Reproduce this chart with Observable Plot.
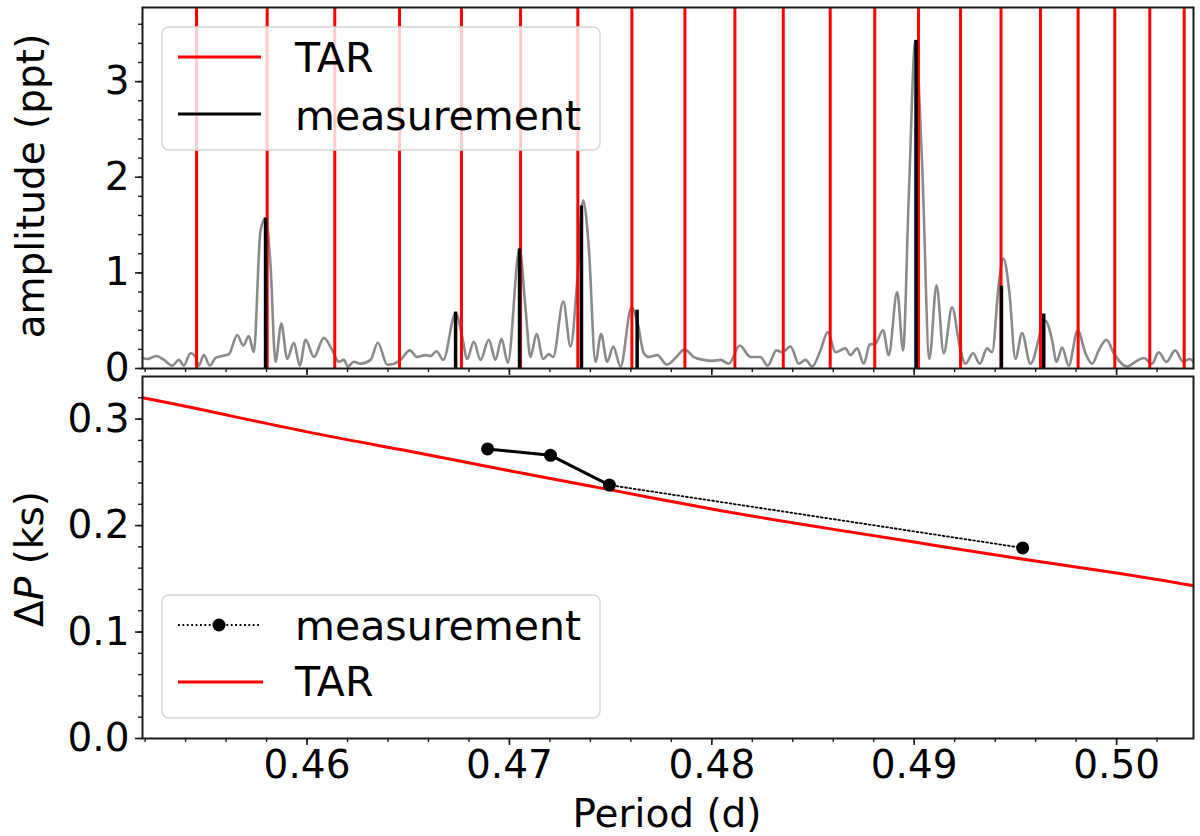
<!DOCTYPE html>
<html>
<head>
<meta charset="utf-8">
<script src="https://cdn.jsdelivr.net/npm/d3@7"></script>
<script src="https://cdn.jsdelivr.net/npm/@observablehq/plot@0.6"></script>
<style>
  body { margin: 0; background: #fff; }
  #chart svg { display: block; }
</style>
</head>
<body>
<div id="chart"></div>
<script>
// periodogram (gray curve)
const specPeriod = [
  0.45187, 0.45211, 0.45256, 0.45293, 0.45334, 0.45367, 0.45391, 0.45424, 0.45449, 0.45465,
  0.4549, 0.4552, 0.45548, 0.45581, 0.45614, 0.45655, 0.45685, 0.45712, 0.45737, 0.4577,
  0.45795, 0.4582, 0.45844, 0.45873, 0.45902, 0.45935, 0.45964, 0.45993, 0.46034, 0.46083,
  0.46125, 0.46157, 0.46182, 0.46202, 0.46231, 0.46264, 0.46314, 0.4635, 0.46396, 0.46429,
  0.46462, 0.46508, 0.46544, 0.46585, 0.4661, 0.4664, 0.46673, 0.46734, 0.46767, 0.46791,
  0.46824, 0.46857, 0.46898, 0.46931, 0.46961, 0.46992, 0.4705, 0.47079, 0.47104, 0.47134,
  0.47167, 0.47195, 0.47216, 0.47266, 0.47302, 0.47335, 0.47364, 0.47392, 0.47425, 0.47453,
  0.47483, 0.47513, 0.47549, 0.47603, 0.47631, 0.47664, 0.47689, 0.4773, 0.47779, 0.47825,
  0.47865, 0.47911, 0.4796, 0.48002, 0.48043, 0.48084, 0.48138, 0.48191, 0.4824, 0.48276,
  0.48319, 0.48348, 0.48389, 0.4843, 0.48463, 0.48496, 0.48537, 0.48573, 0.48611, 0.4866,
  0.48685, 0.48718, 0.48751, 0.4878, 0.48808, 0.48846, 0.48874, 0.48916, 0.48945, 0.48973,
  0.49006, 0.49039, 0.49075, 0.4911, 0.49146, 0.49187, 0.49225, 0.49253, 0.49291, 0.49324,
  0.4936, 0.49385, 0.49418, 0.49441, 0.4947, 0.495, 0.49533, 0.49574, 0.49648, 0.49681,
  0.49703, 0.49731, 0.49763, 0.49808, 0.49846, 0.49879, 0.49912, 0.4995, 0.49986, 0.50052,
  0.50093, 0.50134, 0.50175, 0.50208, 0.50246, 0.5029, 0.50328, 0.50361, 0.5038
];
const specAmp = [
  0.11, 0.10, 0.13, 0.09, 0.03, 0.09, 0.03, 0.16, 0.12, 0.03,
  0.14, 0.03, 0.11, 0.13, 0.15, 0.35, 0.24, 0.34, 0.17, 1.44,
  1.57, 1.06, 0.07, 0.47, 0.10, 0.27, 0.03, 0.30, 0.12, 0.32,
  0.19, 0.07, 0.09, 0.02, 0.07, 0.05, 0.09, 0.27, 0.04, 0.05,
  0.09, 0.19, 0.12, 0.14, 0.13, 0.18, 0.09, 0.58, 0.33, 0.10,
  0.28, 0.09, 0.30, 0.09, 0.31, 0.06, 1.25, 0.64, 0.12, 0.36,
  0.10, 0.15, 0.12, 0.70, 0.23, 0.92, 1.76, 1.27, 0.07, 0.36,
  0.07, 0.23, 0.02, 0.64, 0.50, 0.16, 0.12, 0.14, 0.04, 0.12,
  0.20, 0.12, 0.09, 0.08, 0.09, 0.05, 0.24, 0.12, 0.12, 0.03,
  0.19, 0.17, 0.23, 0.05, 0.09, 0.02, 0.19, 0.38, 0.17, 0.21,
  0.14, 0.21, 0.05, 0.25, 0.26, 0.40, 0.14, 0.80, 0.19, 1.79,
  3.43, 2.14, 0.10, 0.87, 0.16, 0.64, 0.23, 0.05, 0.16, 0.05,
  0.21, 0.17, 0.89, 1.15, 0.80, 0.10, 0.37, 0.05, 0.50, 0.30,
  0.07, 0.22, 0.03, 0.40, 0.16, 0.05, 0.19, 0.30, 0.16, 0.02,
  0.07, 0.11, 0.05, 0.17, 0.07, 0.19, 0.07, 0.10, 0.07
];

// TAR predicted periods (red verticals)
const tarPeriod = [
  0.45454, 0.45803, 0.46137, 0.46457, 0.46763, 0.47055, 0.47338, 0.47605, 0.47867, 0.48114,
  0.48353, 0.48585, 0.48805, 0.49021, 0.49229, 0.49429, 0.49624, 0.4981, 0.49991, 0.50164, 0.50334
];

// measured modes (black verticals)
const measPeriod = [0.45795, 0.46734, 0.4705, 0.47356, 0.47631, 0.49009, 0.49431, 0.4964];
const measAmp = [1.57, 0.59, 1.25, 1.70, 0.61, 3.43, 0.86, 0.57];

// period spacings, lower panel
const spacingPeriod = [0.46892, 0.47203, 0.47494, 0.49536];
const spacingKs = [0.272, 0.266, 0.238, 0.179];
const tarLinePeriod = [0.45187, 0.455, 0.46, 0.465, 0.47, 0.475, 0.48, 0.485, 0.49, 0.495, 0.50, 0.5038];
const tarLineKs = [0.320, 0.308, 0.288, 0.270, 0.2515, 0.2335, 0.2155, 0.1995, 0.1845, 0.1695, 0.1555, 0.1435];

// ticks
const xTicks = [0.46, 0.47, 0.48, 0.49, 0.50];
const xMinor = d3.range(226, 252).map(i => i * 0.002);
const ampTicks = [0, 1, 2, 3];
const ampMinor = d3.range(0, 19).map(i => i * 0.2);
const dpTicks = [0, 0.1, 0.2, 0.3];
const dpMinor = d3.range(0, 17).map(i => i * 0.02);

const spec = specPeriod.map((p, i) => ({p, a: specAmp[i]}));
const meas = measPeriod.map((p, i) => ({p, a: measAmp[i]}));
const spacing = spacingPeriod.map((p, i) => ({p, dp: spacingKs[i]}));
const tarLine = tarLinePeriod.map((p, i) => ({p, dp: tarLineKs[i]}));

const font = "DejaVu Sans";
const ink = "#1a1a1a";
const xDomain = [0.45187, 0.5038];

function axes(yTicks, yMinor, yFormat, showX) {
  return [
    Plot.axisY({ticks: yTicks, tickSize: 7, tickPadding: 6, tickFormat: yFormat, label: null,
      fontSize: 39, fontFamily: font, stroke: ink, strokeWidth: 1.6}),
    Plot.axisY({ticks: yMinor, tickSize: 4, tickFormat: () => "", label: null, stroke: ink, strokeWidth: 1.4}),
    Plot.axisX({ticks: xTicks, tickSize: 7, tickPadding: 5, label: null,
      tickFormat: showX ? d3.format(".2f") : () => "", fontSize: 39, fontFamily: font, stroke: ink, strokeWidth: 1.6}),
    Plot.axisX({ticks: xMinor, tickSize: 4, tickFormat: () => "", label: null, stroke: ink, strokeWidth: 1.4}),
    Plot.frame({stroke: ink, strokeWidth: 2})
  ];
}

const upperChart = Plot.plot({
  width: 1200, height: 375,
  marginLeft: 142, marginRight: 7, marginTop: 7, marginBottom: 7,
  style: {fontFamily: font, fontSize: "39px", color: "black", background: "white", overflow: "visible"},
  x: {domain: xDomain},
  y: {domain: [0, 3.775]},
  marks: [
    Plot.line(spec, {x: "p", y: "a", stroke: "#8a8a8a", strokeWidth: 2.6, curve: "monotone-x", clip: true}),
    Plot.ruleX(tarPeriod, {stroke: "red", strokeWidth: 3}),
    Plot.ruleX(meas, {x: "p", y1: 0, y2: "a", stroke: "black", strokeWidth: 3.5}),
    ...axes(ampTicks, ampMinor, d3.format("d"), false)
  ]
});

const lowerChart = Plot.plot({
  width: 1200, height: 461,
  marginLeft: 142, marginRight: 7, marginTop: 1, marginBottom: 98,
  style: {fontFamily: font, fontSize: "39px", color: "black", background: "white", overflow: "visible"},
  x: {domain: xDomain},
  y: {domain: [0, 0.34]},
  marks: [
    Plot.line(tarLine, {x: "p", y: "dp", stroke: "red", strokeWidth: 3, curve: "natural", clip: true}),
    Plot.line(spacing, {x: "p", y: "dp", stroke: "black", strokeWidth: 1.8, strokeDasharray: "1.8,2.6"}),
    Plot.line(spacing.slice(0, 3), {x: "p", y: "dp", stroke: "black", strokeWidth: 3}),
    Plot.dot(spacing, {x: "p", y: "dp", r: 6.5, fill: "black"}),
    ...axes(dpTicks, dpMinor, d3.format(".1f"), true)
  ]
});

// legends and axis titles
function legendBox(svg, y) {
  svg.append("rect").attr("x", 162).attr("y", y).attr("width", 438).attr("height", 123)
    .attr("rx", 7).attr("fill", "white").attr("fill-opacity", 0.8)
    .attr("stroke", "#d4d4d4").attr("stroke-width", 1.5);
}
function legendText(svg, y, t) {
  svg.append("text").attr("x", 295).attr("y", y).attr("text-anchor", "start")
    .attr("font-family", font).attr("font-size", 41).attr("fill", "black").text(t);
}

const st = d3.select(upperChart);
legendBox(st, 27);
st.append("line").attr("x1", 178).attr("x2", 261).attr("y1", 57).attr("y2", 57)
  .attr("stroke", "red").attr("stroke-width", 3);
legendText(st, 72, "TAR");
st.append("line").attr("x1", 178).attr("x2", 261).attr("y1", 114).attr("y2", 114)
  .attr("stroke", "black").attr("stroke-width", 3);
legendText(st, 130, "measurement");
st.append("text").attr("transform", "translate(30,186) rotate(-90)")
  .attr("text-anchor", "middle").attr("dominant-baseline", "central")
  .attr("font-family", font).attr("font-size", 39).attr("fill", "black")
  .text("amplitude (ppt)");

const sb = d3.select(lowerChart);
legendBox(sb, 220);
sb.append("line").attr("x1", 178).attr("x2", 260).attr("y1", 250).attr("y2", 250)
  .attr("stroke", "black").attr("stroke-width", 1.8).attr("stroke-dasharray", "1.8,2.6");
sb.append("circle").attr("cx", 219).attr("cy", 250).attr("r", 6.5).attr("fill", "black");
legendText(sb, 265, "measurement");
sb.append("line").attr("x1", 178).attr("x2", 263).attr("y1", 307).attr("y2", 307)
  .attr("stroke", "red").attr("stroke-width", 3);
legendText(sb, 321, "TAR");
const yl = sb.append("text").attr("transform", "translate(29,184) rotate(-90)")
  .attr("text-anchor", "middle").attr("dominant-baseline", "central")
  .attr("font-family", font).attr("font-size", 39).attr("fill", "black");
yl.append("tspan").text("Δ");
yl.append("tspan").attr("font-style", "italic").text("P");
yl.append("tspan").text(" (ks)");
sb.append("text").attr("x", 667).attr("y", 438)
  .attr("text-anchor", "middle").attr("dominant-baseline", "central")
  .attr("font-family", font).attr("font-size", 39).attr("fill", "black")
  .text("Period (d)");

d3.select("#chart").append(() => upperChart);
d3.select("#chart").append(() => lowerChart);
</script>
</body>
</html>
